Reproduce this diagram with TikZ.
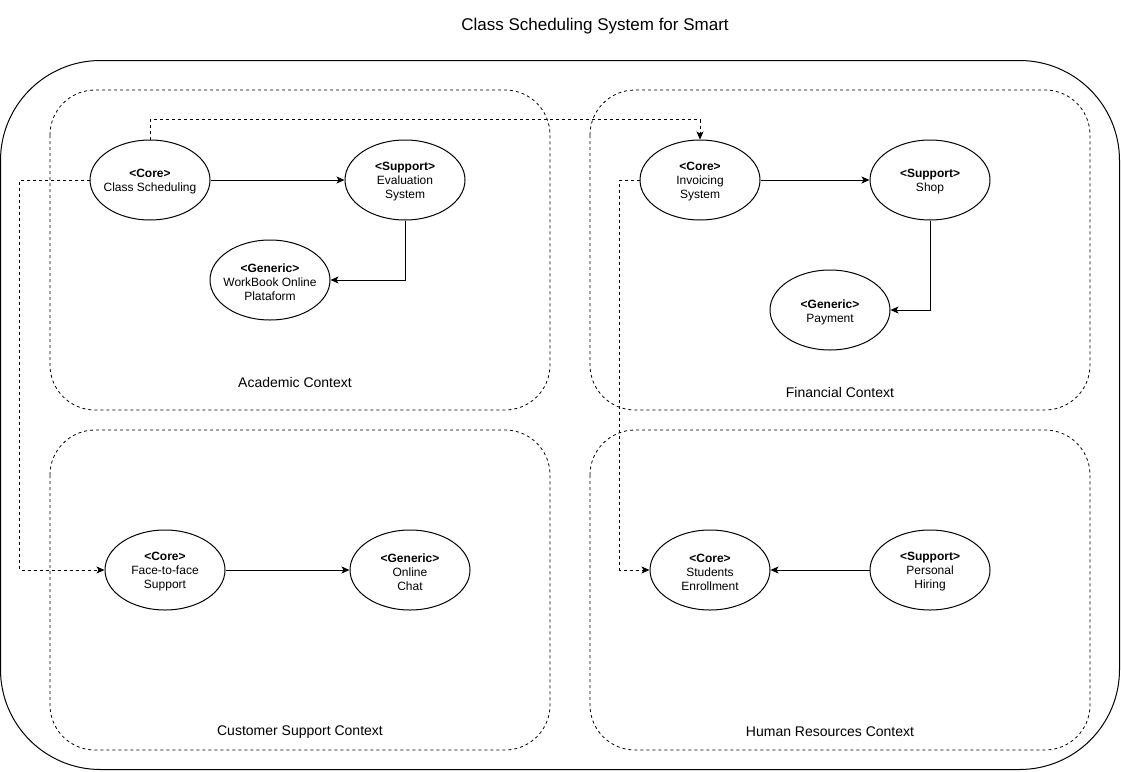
\documentclass[tikz,border=0pt]{standalone}
\usepackage{fontspec}
\setmainfont{Liberation Sans}
\usetikzlibrary{arrows.meta,shapes.geometric}
\tikzset{
  uc/.style={ellipse, draw, line width=1pt, minimum width=120pt, minimum height=80pt, inner sep=0pt, fill=white},
  lbl/.style={align=center, font=\fontsize{12}{14}\selectfont, inner sep=0pt, yshift=-2pt},
  ctx/.style={draw, dashed, dash pattern=on 3pt off 3pt, line width=0.8pt, rounded corners=45pt},
  ctxlbl/.style={font=\fontsize{14}{16}\selectfont, inner sep=0pt},
  arr/.style={line width=1pt, -{Stealth[length=8pt,width=7pt,inset=2pt]}},
  darr/.style={arr, dash pattern=on 3pt off 3pt}
}
\begin{document}
\begin{tikzpicture}[x=1pt,y=-1pt]
\useasboundingbox[fill=white] (0,0) rectangle (1121,771);
% title
\node[font=\fontsize{17}{20}\selectfont, inner sep=0pt] (title) at (595,26) {Class Scheduling System for Smart};
% outer system
\draw[line width=1pt, rounded corners=100pt] (0.5,60.5) rectangle (1119.5,769.5);
% contexts
\draw[ctx] (50,90) rectangle (550,410);
\draw[ctx] (590,90) rectangle (1090,410);
\draw[ctx] (50,430) rectangle (550,750);
\draw[ctx] (590,430) rectangle (1090,750);
\node[ctxlbl] (acl) at (295,382) {Academic Context};
\node[ctxlbl] (fcl) at (840,392) {Financial Context};
\node[ctxlbl] (csl) at (300,732) {Customer Support Context};
\node[ctxlbl] (hrl) at (830,732) {Human Resources Context};
% use cases
\node[uc, label={[lbl]center:{\textbf{<Core>}\\Class Scheduling}}] (cs) at (150,180) {};
\node[uc, label={[lbl]center:{\textbf{<Support>}\\Evaluation\\System}}] (ev) at (405,180) {};
\node[uc, label={[lbl]center:{\textbf{<Generic>}\\WorkBook Online\\Plataform}}] (wb) at (270,280) {};
\node[uc, label={[lbl]center:{\textbf{<Core>}\\Invoicing\\System}}] (inv) at (700,180) {};
\node[uc, label={[lbl]center:{\textbf{<Support>}\\Shop}}] (shop) at (930,180) {};
\node[uc, label={[lbl]center:{\textbf{<Generic>}\\Payment}}] (pay) at (830,310) {};
\node[uc, label={[lbl]center:{\textbf{<Core>}\\Face-to-face\\Support}}] (ff) at (165,570) {};
\node[uc, label={[lbl]center:{\textbf{<Generic>}\\Online\\Chat}}] (oc) at (410,570) {};
\node[uc, label={[lbl]center:{\textbf{<Core>}\\Students\\Enrollment}}] (se) at (710,570) {};
\node[uc, label={[lbl]center:{\textbf{<Support>}\\Personal\\Hiring}}] (ph) at (930,570) {};
% connectors
\draw[arr] (cs) -- (ev);
\draw[arr] (ev.south) |- (wb.east);
\draw[darr] (cs.north) -- ++(0,-20) -| (inv.north);
\draw[darr] (cs.west) -- ++(-70,0) |- (ff.west);
\draw[arr] (inv) -- (shop);
\draw[arr] (shop.south) |- (pay.east);
\draw[darr] (inv.west) -- ++(-20,0) |- (se.west);
\draw[arr] (ff) -- (oc);
\draw[arr] (ph) -- (se);
\end{tikzpicture}
\end{document}
